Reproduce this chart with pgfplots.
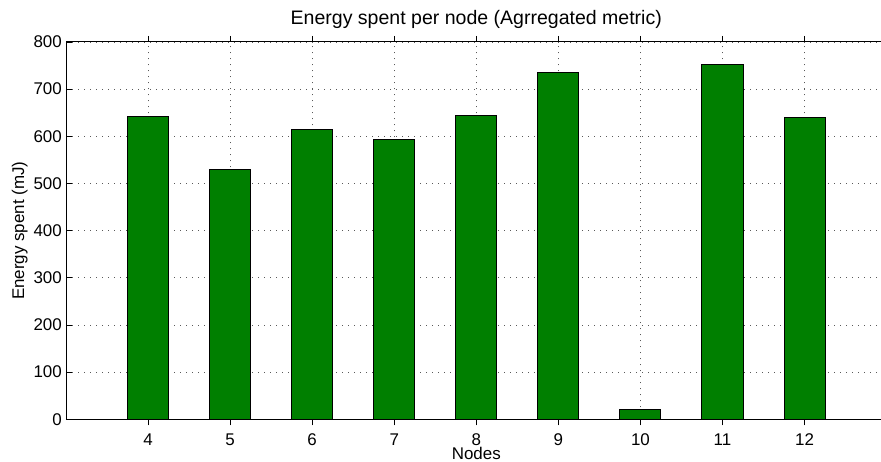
\documentclass[border=0pt]{standalone}
\usepackage{pgfplots}
\pgfplotsset{compat=1.18}
\usepackage{fontspec}
\setmainfont{Liberation Sans}
\definecolor{matgreen}{RGB}{0,127,0}
\begin{document}
\begin{tikzpicture}[x=1bp,y=1bp]
\begin{axis}[
  at={(66bp,42.7bp)}, anchor=south west,
  scale only axis,
  width=820.6bp, height=377.3bp,
  xmin=3, xmax=13, ymin=0, ymax=800,
  xtick={4,5,6,7,8,9,10,11,12},
  ytick={0,100,200,300,400,500,600,700,800},
  tick align=inside,
  major tick length=6bp,
  tick style={black, line width=0.8bp},
  axis line style={black, line width=1bp},
  grid=major,
  grid style={black!65, line width=0.7bp, dash pattern=on 1bp off 5bp},
  /pgf/number format/assume math mode=true,
  tick label style={font=\fontsize{17}{20}\selectfont},
  xticklabel style={anchor=base, inner sep=0pt, yshift=-20bp},
  yticklabel style={anchor=east, inner sep=0pt, xshift=-4bp},
  title={Energy spent per node (Agrregated metric)},
  title style={at={(axis description cs:0.5,1)}, anchor=base, yshift=12bp, inner sep=0pt, font=\fontsize{19.6}{22}\selectfont},
  xlabel={Nodes},
  xlabel style={at={(axis description cs:0.5,0)}, anchor=base, yshift=-40.5bp, inner sep=0pt, font=\fontsize{17}{20}\selectfont},
  ylabel={Energy spent (mJ)},
  ylabel style={at={([xshift=-42bp]axis description cs:0,0.5)}, anchor=base, inner sep=0pt, font=\fontsize{17}{20}\selectfont},
  ybar, bar width=0.5,
]
\addplot[fill=matgreen, draw=black, line width=1bp] coordinates {
(4,642) (5,530) (6,614) (7,594) (8,645) (9,736) (10,21) (11,753) (12,640)
};
\end{axis}
\pgfresetboundingbox
\useasboundingbox (0,0) rectangle (881bp,462bp);
\end{tikzpicture}
\end{document}
